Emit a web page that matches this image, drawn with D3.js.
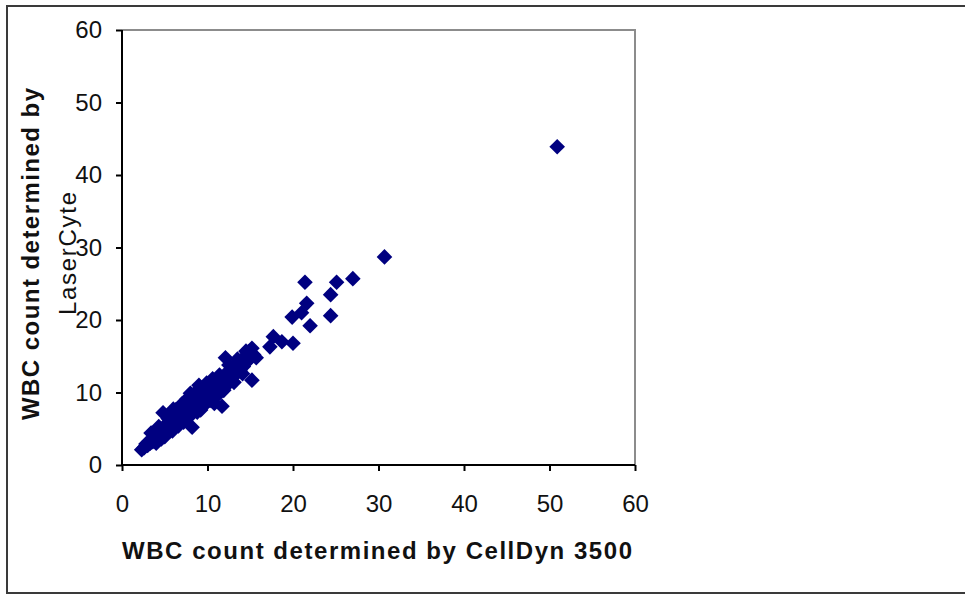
<!DOCTYPE html>
<html>
<head>
<meta charset="utf-8">
<script src="https://cdn.jsdelivr.net/npm/d3@7"></script>
<style>
  html, body { margin: 0; padding: 0; background: #fff; }
  svg { display: block; }
  text { font-family: "Liberation Sans", Arial, sans-serif; }
</style>
</head>
<body>
<svg id="chart" width="965" height="595"></svg>
<script>
// ---- data (CellDyn 3500 x, LaserCyte y) ----
const cellDyn = [
  2.3, 2.6, 2.8, 3.0, 3.2, 3.3, 3.5, 3.6, 3.8, 3.9,
  4.0, 4.1, 4.2, 4.4, 4.5, 4.6, 4.7, 4.8, 4.9, 5.0,
  5.1, 5.2, 5.3, 5.4, 5.5, 5.6, 5.7, 5.8, 5.9, 6.0,
  6.1, 6.2, 6.3, 6.4, 6.5, 6.6, 6.7, 6.8, 6.9, 7.0,
  7.1, 7.2, 7.3, 7.4, 7.5, 7.6, 7.7, 7.8, 7.9, 8.0,
  8.1, 8.2, 8.3, 8.4, 8.5, 8.6, 8.7, 8.8, 8.9, 9.0,
  9.1, 9.2, 9.3, 9.4, 9.5, 9.6, 9.7, 9.8, 9.9, 10.0,
  10.1, 10.2, 10.3, 10.5, 10.6, 10.7, 10.8, 10.9, 11.0, 11.2,
  11.3, 11.5, 11.7, 11.8, 12.0, 12.1, 12.2, 12.4, 12.6, 12.8,
  13.0, 13.2, 13.4, 13.6, 13.8, 14.0, 14.2, 14.4, 14.6, 14.8,
  15.0, 15.2, 15.2, 15.4, 15.7, 12.3,
  3.4, 4.0, 4.3, 5.0, 5.4, 5.9, 6.3, 6.6, 7.0, 7.2,
  7.6, 8.0, 8.4, 8.8, 9.2, 9.5, 9.9, 10.3, 10.6, 11.0,
  11.4, 11.9, 12.5, 13.1, 13.5, 14.1, 14.5, 4.6, 6.0, 9.0,
  17.7, 17.3, 18.7, 20.0, 19.9, 21.0, 21.6, 22.0, 21.4, 24.4,
  24.4, 25.1, 27.0, 30.7, 50.9
];
const laserCyte = [
  2.1, 2.4, 2.9, 2.7, 3.3, 3.0, 3.6, 3.2, 4.0, 3.5,
  3.9, 4.3, 3.7, 4.5, 4.1, 4.8, 4.3, 7.2, 5.0, 4.6,
  5.4, 4.9, 5.7, 5.1, 6.0, 5.3, 5.8, 5.0, 6.3, 5.6,
  6.6, 5.9, 7.0, 6.2, 6.8, 5.7, 7.3, 6.4, 7.6, 6.7,
  7.1, 6.2, 7.8, 7.0, 8.2, 7.4, 6.8, 8.5, 7.7, 9.9,
  8.1, 5.2, 8.8, 7.4, 9.2, 8.3, 9.6, 7.9, 9.0, 8.5,
  9.9, 7.6, 9.4, 8.8, 10.3, 9.1, 10.0, 8.6, 10.6, 9.5,
  11.0, 9.2, 10.4, 9.9, 11.3, 10.1, 8.5, 10.8, 9.6, 11.6,
  10.4, 11.1, 8.1, 12.0, 10.9, 14.8, 11.6, 12.5, 11.4, 12.9,
  12.2, 13.3, 12.6, 14.0, 13.1, 14.4, 13.6, 15.0, 14.2, 15.6,
  14.8, 16.1, 11.7, 15.2, 14.8, 12.8,
  4.4, 3.0, 5.3, 3.9, 6.4, 4.7, 7.6, 5.4, 8.4, 5.9,
  9.1, 6.8, 9.8, 7.3, 10.6, 8.1, 11.3, 8.9, 11.9, 9.4,
  12.4, 10.3, 13.8, 11.4, 14.6, 12.6, 15.7, 3.6, 7.7, 11.0,
  17.7, 16.3, 17.0, 16.8, 20.4, 21.0, 22.3, 19.2, 25.2, 23.5,
  20.6, 25.2, 25.7, 28.7, 43.9
];
const xTicks = [0, 10, 20, 30, 40, 50, 60];
const yTicks = [0, 10, 20, 30, 40, 50, 60];
const xTitle = "WBC count determined by CellDyn 3500";
const yTitle1 = "WBC count determined by";
const yTitle2 = "LaserCyte";

const points = cellDyn.map((v, i) => ({ x: v, y: laserCyte[i] }));

const svg = d3.select("#chart");
const W = 965, H = 595;
const plot = { left: 122, right: 635, top: 30, bottom: 465 };

svg.append("rect").attr("width", W).attr("height", H).attr("fill", "#fff");

// outer frame
svg.append("path")
  .attr("d", `M${W},6H7V593H${W}`)
  .attr("fill", "none").attr("stroke", "#3a3a3a").attr("stroke-width", 2);

const x = d3.scaleLinear().domain([0, 60]).range([plot.left, plot.right]);
const y = d3.scaleLinear().domain([0, 60]).range([plot.bottom, plot.top]);

// plot area border (top/right grey)
svg.append("path")
  .attr("d", `M${plot.left},${plot.top}H${plot.right}V${plot.bottom}`)
  .attr("fill", "none").attr("stroke", "#8c8c8c").attr("stroke-width", 2);

// axes
const yAxis = svg.append("g")
  .attr("transform", `translate(${plot.left},0)`)
  .call(d3.axisLeft(y).tickValues(yTicks).tickSize(6).tickPadding(14).tickFormat(d3.format("d")));
const xAxis = svg.append("g")
  .attr("transform", `translate(0,${plot.bottom})`)
  .call(d3.axisBottom(x).tickValues(xTicks).tickSize(6).tickPadding(24).tickFormat(d3.format("d")));

[yAxis, xAxis].forEach(g => {
  g.select(".domain").attr("stroke", "#000").attr("stroke-width", 2);
  g.selectAll(".tick line").attr("stroke", "#000").attr("stroke-width", 2);
  g.selectAll(".tick text")
    .attr("font-family", "'Liberation Sans', Arial, sans-serif")
    .attr("font-size", 24).attr("fill", "#111");
});
yAxis.select(".domain").attr("d", `M0,${plot.bottom}V${plot.top}`);
xAxis.select(".domain").attr("d", `M${plot.left},0H${plot.right}`);

// points
const r = 7.8;
svg.append("g").selectAll("path")
  .data(points)
  .join("path")
  .attr("d", `M0,${-r}L${r},0L0,${r}L${-r},0Z`)
  .attr("transform", d => `translate(${x(d.x)},${y(d.y)})`)
  .attr("fill", "#000080");

// axis titles
svg.append("text")
  .attr("x", 122).attr("y", 559)
  .attr("textLength", 510).attr("lengthAdjust", "spacing")
  .attr("font-size", 24).attr("font-weight", "bold").attr("fill", "#111")
  .text(xTitle);

svg.append("text")
  .attr("transform", "translate(39,420) rotate(-90)")
  .attr("textLength", 332).attr("lengthAdjust", "spacing")
  .attr("font-size", 24).attr("font-weight", "bold").attr("fill", "#111")
  .text(yTitle1);

svg.append("text")
  .attr("transform", "translate(76,315) rotate(-90)")
  .attr("textLength", 123).attr("lengthAdjust", "spacing")
  .attr("font-size", 24).attr("fill", "#111")
  .text(yTitle2);
</script>
</body>
</html>
